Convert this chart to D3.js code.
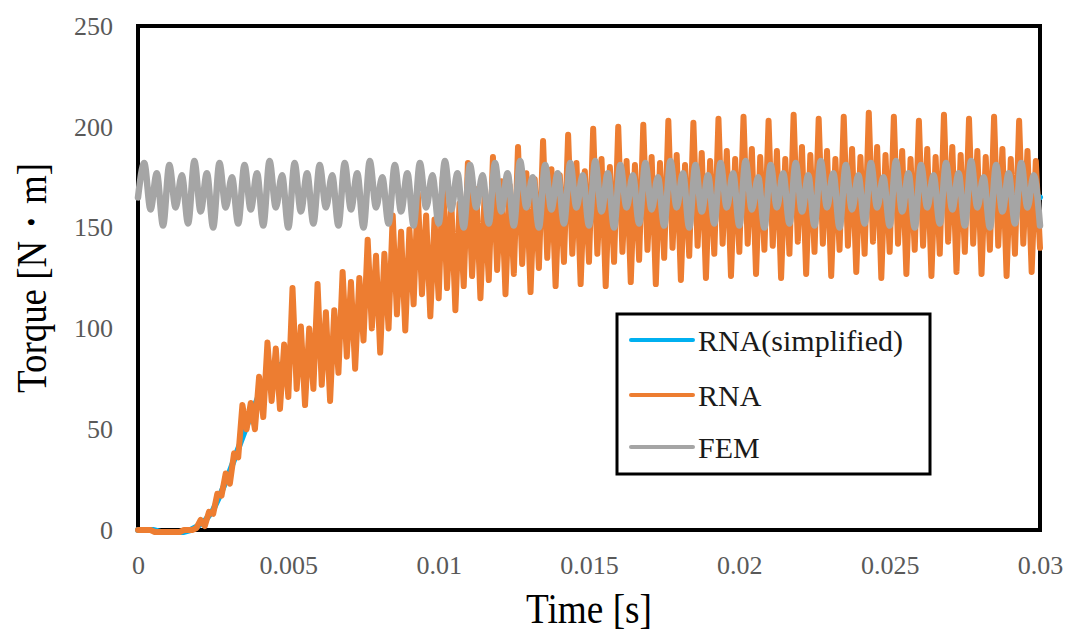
<!DOCTYPE html>
<html>
<head>
<meta charset="utf-8">
<script src="https://cdn.jsdelivr.net/npm/d3@7"></script>
<style>
  html, body { margin: 0; padding: 0; background: #fff; }
  svg { display: block; }
</style>
</head>
<body>
<svg id="chart" width="1066" height="632"></svg>
<script>
// Time axis ticks and torque axis ticks
const xTickValues = [0, 0.005, 0.01, 0.015, 0.02, 0.025, 0.03];
const xTickLabels = ["0", "0.005", "0.01", "0.015", "0.02", "0.025", "0.03"];
const yTickValues = [0, 50, 100, 150, 200, 250];
const yTickLabels = ["0", "50", "100", "150", "200", "250"];

const seriesNames = ["RNA(simplified)", "RNA", "FEM"];
const seriesColors = ["#00B0F0", "#ED7D31", "#A5A5A5"];

// Sampling of each waveform over 0 .. 0.03 s
const tEnd = 0.03;

// RNA(simplified) torque [N·m], sampled every 0.25 ms
const rnaSimplified = [
  0, 0, 0, -1, -1, -1, -1, 0, 2, 5,
  10, 18, 27, 37, 47, 57, 66, 73, 76, 82,
  83, 86, 85, 88, 87, 92, 94, 101, 103, 110,
  113, 118, 119, 123, 123, 130, 132, 136, 135, 139,
  138, 143, 143, 147, 146, 149, 147, 151, 150, 153,
  152, 155, 154, 157, 156, 158, 157, 160, 158, 161,
  159, 162, 160, 163, 160, 164, 161, 164, 161, 165,
  162, 165, 162, 166, 163, 166, 163, 167, 163, 167,
  164, 167, 163, 167, 164, 167, 163, 167, 164, 166,
  163, 167, 164, 167, 163, 167, 164, 166, 163, 167,
  164, 167, 163, 167, 164, 167, 163, 166, 164, 167,
  163, 167, 164, 167, 163, 167, 164, 166, 163, 167,
  165
];

// RNA torque [N·m], 217 samples over 0 .. 0.03 s
const rna = [
  0, 0, 0, 0, -1, -1, -1, -1, -1, -1,
  -1, 0, 0, 0, 1, 5, 2, 9, 8, 18,
  17, 28, 23, 38, 36, 62, 50, 63, 50, 76,
  56, 93, 64, 90, 60, 92, 66, 120, 70, 101,
  62, 100, 70, 122, 72, 108, 64, 109, 78, 128,
  86, 123, 80, 125, 94, 144, 100, 136, 88, 137,
  100, 156, 107, 148, 99, 149, 112, 167, 117, 156,
  106, 154, 115, 175, 120, 164, 109, 162, 121, 182,
  126, 169, 115, 166, 124, 185, 129, 173, 117, 171,
  127, 190, 132, 177, 118, 174, 130, 193, 135, 179,
  121, 176, 133, 196, 137, 182, 122, 178, 133, 199,
  137, 184, 121, 180, 133, 200, 138, 183, 123, 181,
  134, 201, 139, 185, 122, 182, 135, 203, 140, 186,
  124, 181, 136, 202, 141, 187, 125, 183, 137, 204,
  142, 188, 126, 184, 138, 205, 142, 189, 127, 185,
  139, 203, 141, 188, 125, 184, 137, 206, 143, 190,
  127, 186, 138, 204, 142, 188, 126, 184, 139, 205,
  141, 189, 128, 185, 137, 207, 143, 190, 125, 186,
  138, 205, 142, 188, 127, 184, 139, 203, 141, 189,
  126, 185, 137, 206, 143, 190, 128, 186, 138, 204,
  142, 188, 127, 185, 139, 205, 141, 189, 126, 184,
  137, 203, 142, 188, 128, 183, 140
];

// FEM torque [N·m], 145 samples over 0 .. 0.03 s
const fem = [
  165,
  182, 159, 177, 151,  181, 160, 176, 152,  183, 158, 177, 150,  182, 160, 175, 152,
  181, 159, 177, 151,  183, 160, 176, 150,  182, 158, 177, 152,  181, 160, 176, 151,
  182, 159, 177, 150,  183, 160, 175, 152,  181, 158, 177, 151,  182, 160, 176, 152,
  183, 159, 177, 150,  181, 160, 176, 152,  182, 158, 177, 151,  183, 160, 175, 150,
  181, 159, 177, 152,  182, 160, 176, 151,  183, 158, 177, 150,  181, 160, 176, 152,
  182, 159, 175, 151,  183, 160, 177, 150,  181, 158, 176, 152,  182, 160, 177, 151,
  183, 159, 175, 150,  181, 160, 177, 152,  182, 158, 176, 151,  183, 160, 177, 150,
  181, 159, 176, 152,  182, 160, 175, 151,  183, 158, 177, 150,  181, 160, 176, 152,
  182, 159, 177, 151,  183, 160, 175, 150,  181, 158, 177, 152,  182, 160, 176, 151
];

const seriesValues = [rnaSimplified, rna, fem];
const seriesWidths = [6, 6, 6.5];

// Plot-area geometry
const plot = { left: 138, right: 1040, top: 26, bottom: 530 };

const svg = d3.select("#chart");
const x = d3.scaleLinear().domain([0, tEnd]).range([plot.left, plot.right]);
const y = d3.scaleLinear().domain([0, 250]).range([plot.bottom, plot.top]);

const serif = "'Liberation Serif', 'Times New Roman', 'DejaVu Serif', serif";

// Plot-area frame
svg.append("rect")
  .attr("x", plot.left).attr("y", plot.top)
  .attr("width", plot.right - plot.left).attr("height", plot.bottom - plot.top)
  .attr("fill", "none").attr("stroke", "#000").attr("stroke-width", 4);

// Axes (labels only, the frame serves as axis lines)
const yAxis = d3.axisLeft(y)
  .tickValues(yTickValues)
  .tickFormat((d, i) => yTickLabels[i])
  .tickSize(0).tickPadding(25);
const gy = svg.append("g").attr("transform", `translate(${plot.left},0)`).call(yAxis);
gy.select(".domain").remove();
gy.selectAll("text").attr("font-family", serif).attr("font-size", 26).attr("fill", "#595959");

const xAxis = d3.axisBottom(x)
  .tickValues(xTickValues)
  .tickFormat((d, i) => xTickLabels[i])
  .tickSize(0).tickPadding(26);
const gx = svg.append("g").attr("transform", `translate(0,${plot.bottom})`).call(xAxis);
gx.select(".domain").remove();
gx.selectAll("text").attr("font-family", serif).attr("font-size", 26).attr("fill", "#595959");

// Axis titles
svg.append("text")
  .attr("x", (plot.left + plot.right) / 2).attr("y", 623)
  .attr("text-anchor", "middle")
  .attr("font-family", serif).attr("font-size", 42).attr("fill", "#000")
  .attr("textLength", 126).attr("lengthAdjust", "spacingAndGlyphs")
  .text("Time [s]");

svg.append("text")
  .attr("transform", `translate(46,${(plot.top + plot.bottom) / 2}) rotate(-90)`)
  .attr("text-anchor", "middle")
  .attr("font-family", serif).attr("font-size", 42).attr("fill", "#000")
  .attr("textLength", 230).attr("lengthAdjust", "spacingAndGlyphs")
  .text("Torque [N・m]");

// Waveforms
seriesValues.forEach((vals, s) => {
  const n = vals.length;
  const pts = vals.map((v, i) => [i * tEnd / (n - 1), v]);
  const line = d3.line()
    .x(d => x(d[0])).y(d => y(d[1]))
    .curve(s === 2 ? d3.curveMonotoneX : d3.curveLinear);
  svg.append("path")
    .datum(pts)
    .attr("d", line)
    .attr("fill", "none")
    .attr("stroke", seriesColors[s])
    .attr("stroke-width", seriesWidths[s])
    .attr("stroke-linejoin", "round")
    .attr("stroke-linecap", "round");
});

// Legend
const lg = svg.append("g");
lg.append("rect")
  .attr("x", 617).attr("y", 314).attr("width", 313).attr("height", 160)
  .attr("fill", "#fff").attr("stroke", "#000").attr("stroke-width", 3);
const legendY = [340, 395, 447];
seriesNames.forEach((name, i) => {
  lg.append("line")
    .attr("x1", 631).attr("x2", 693)
    .attr("y1", legendY[i]).attr("y2", legendY[i])
    .attr("stroke", seriesColors[i]).attr("stroke-width", 4)
    .attr("stroke-linecap", "round");
  lg.append("text")
    .attr("x", 698).attr("y", legendY[i] + 11)
    .attr("font-family", serif).attr("font-size", 30).attr("fill", "#1a1a1a")
    .text(name);
});
</script>
</body>
</html>
